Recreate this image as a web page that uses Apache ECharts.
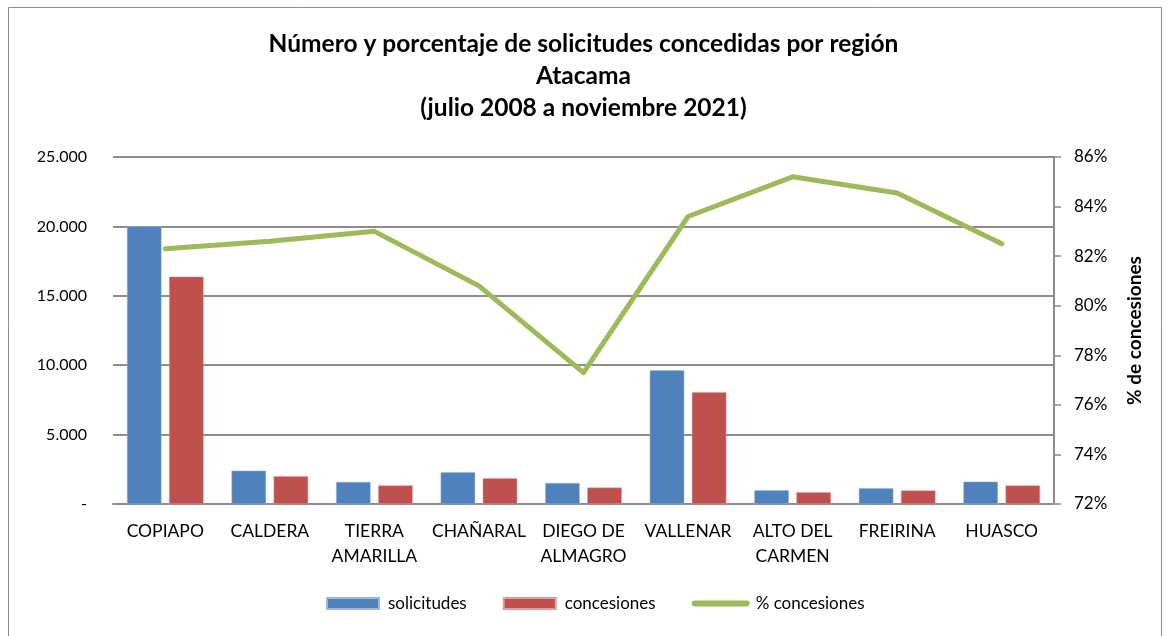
<!DOCTYPE html>
<html>
<head>
<meta charset="utf-8">
<script src="https://cdn.jsdelivr.net/npm/echarts@6/dist/echarts.min.js"></script>
<style>
  html, body { margin: 0; padding: 0; background: #fff; }
  #chart { width: 1167px; height: 636px; }
</style>
</head>
<body>
<div id="chart"></div>
<script>
// data
const regiones = ['COPIAPO', 'CALDERA', 'TIERRA\nAMARILLA', 'CHAÑARAL', 'DIEGO DE\nALMAGRO', 'VALLENAR', 'ALTO DEL\nCARMEN', 'FREIRINA', 'HUASCO'];
const solicitudes = [20000, 2400, 1590, 2280, 1510, 9630, 990, 1130, 1610];
const concesiones = [16380, 2000, 1340, 1850, 1180, 8050, 840, 980, 1340];
const pctConcesiones = [82.3, 82.6, 83.0, 80.8, 77.3, 83.6, 85.2, 84.55, 82.5];

const font = 'Lato, "Open Sans", sans-serif';
const gridColor = '#8c8c8c';

const chart = echarts.init(document.getElementById('chart'));

const option = {
    backgroundColor: '#fff',
    animation: false,
    textStyle: { fontFamily: font },
    title: {
        text: 'Número y porcentaje de solicitudes concedidas por región\nAtacama\n(julio 2008 a noviembre 2021)',
        left: 'center',
        top: 23,
        textStyle: {
            fontFamily: font,
            fontSize: 24.5,
            fontWeight: 'bold',
            color: '#000',
            lineHeight: 32,
        },
    },
    graphic: [
        {
            type: 'rect',
            shape: { x: 8.5, y: 7.5, width: 1153, height: 640 },
            style: { fill: 'none', stroke: '#8c8c8c', lineWidth: 1 },
            silent: true,
        },
    ],
    legend: {
        bottom: 19,
        left: 321,
        itemGap: 36,
        itemWidth: 52,
        itemHeight: 11,
        textStyle: { fontFamily: font, fontSize: 17, color: '#000', padding: [0, 0, 0, 4] },
        data: [
            { name: 'solicitudes', icon: 'rect' },
            { name: 'concesiones', icon: 'rect' },
            {
                name: '% concesiones',
                itemStyle: { opacity: 0 },
                lineStyle: { width: 6, cap: 'round', color: '#9BBB59' },
            },
        ],
    },
    grid: {
        left: 113,
        right: 113,
        top: 157,
        bottom: 132,
    },
    xAxis: {
        type: 'category',
        data: regiones,
        axisLine: { lineStyle: { color: gridColor, width: 2 } },
        axisTick: { show: false },
        axisLabel: {
            fontFamily: font,
            fontSize: 17.5,
            color: '#000',
            lineHeight: 25,
            margin: 15,
            interval: 0,
        },
    },
    yAxis: [
        {
            type: 'value',
            min: 0,
            max: 25000,
            interval: 5000,
            axisLine: { show: false },
            axisTick: { show: false },
            splitLine: { lineStyle: { color: gridColor, width: 2 } },
            axisLabel: {
                fontFamily: font,
                fontSize: 16,
                color: '#000',
                margin: 26,
                formatter: v => v === 0 ? '-' : v.toLocaleString('de-DE'),
            },
        },
        {
            type: 'value',
            min: 72,
            max: 86,
            interval: 2,
            position: 'right',
            name: '% de concesiones',
            nameLocation: 'middle',
            nameRotate: 90,
            nameGap: 71,
            nameTextStyle: { fontFamily: font, fontSize: 19, fontWeight: 'bold', color: '#000' },
            axisLine: { show: true, lineStyle: { color: gridColor, width: 2 } },
            axisTick: { show: true, length: 7, lineStyle: { color: gridColor, width: 1.5 } },
            splitLine: { show: false },
            axisLabel: {
                fontFamily: font,
                fontSize: 17,
                color: '#000',
                margin: 20,
                formatter: '{value}%',
            },
        },
    ],
    series: [
        {
            name: 'solicitudes',
            type: 'bar',
            data: solicitudes,
            barWidth: '33%',
            barGap: '22%',
            itemStyle: { color: '#4F81BD', borderColor: '#9db7db', borderWidth: 0.5 },
        },
        {
            name: 'concesiones',
            type: 'bar',
            data: concesiones,
            barWidth: '33%',
            itemStyle: { color: '#C0504D', borderColor: '#dba09e', borderWidth: 0.5 },
        },
        {
            name: '% concesiones',
            type: 'line',
            yAxisIndex: 1,
            data: pctConcesiones,
            symbol: 'none',
            lineStyle: { color: '#9BBB59', width: 5, cap: 'round', join: 'round' },
            itemStyle: { color: '#9BBB59' },
        },
    ],
};

chart.setOption(option);
</script>
</body>
</html>
